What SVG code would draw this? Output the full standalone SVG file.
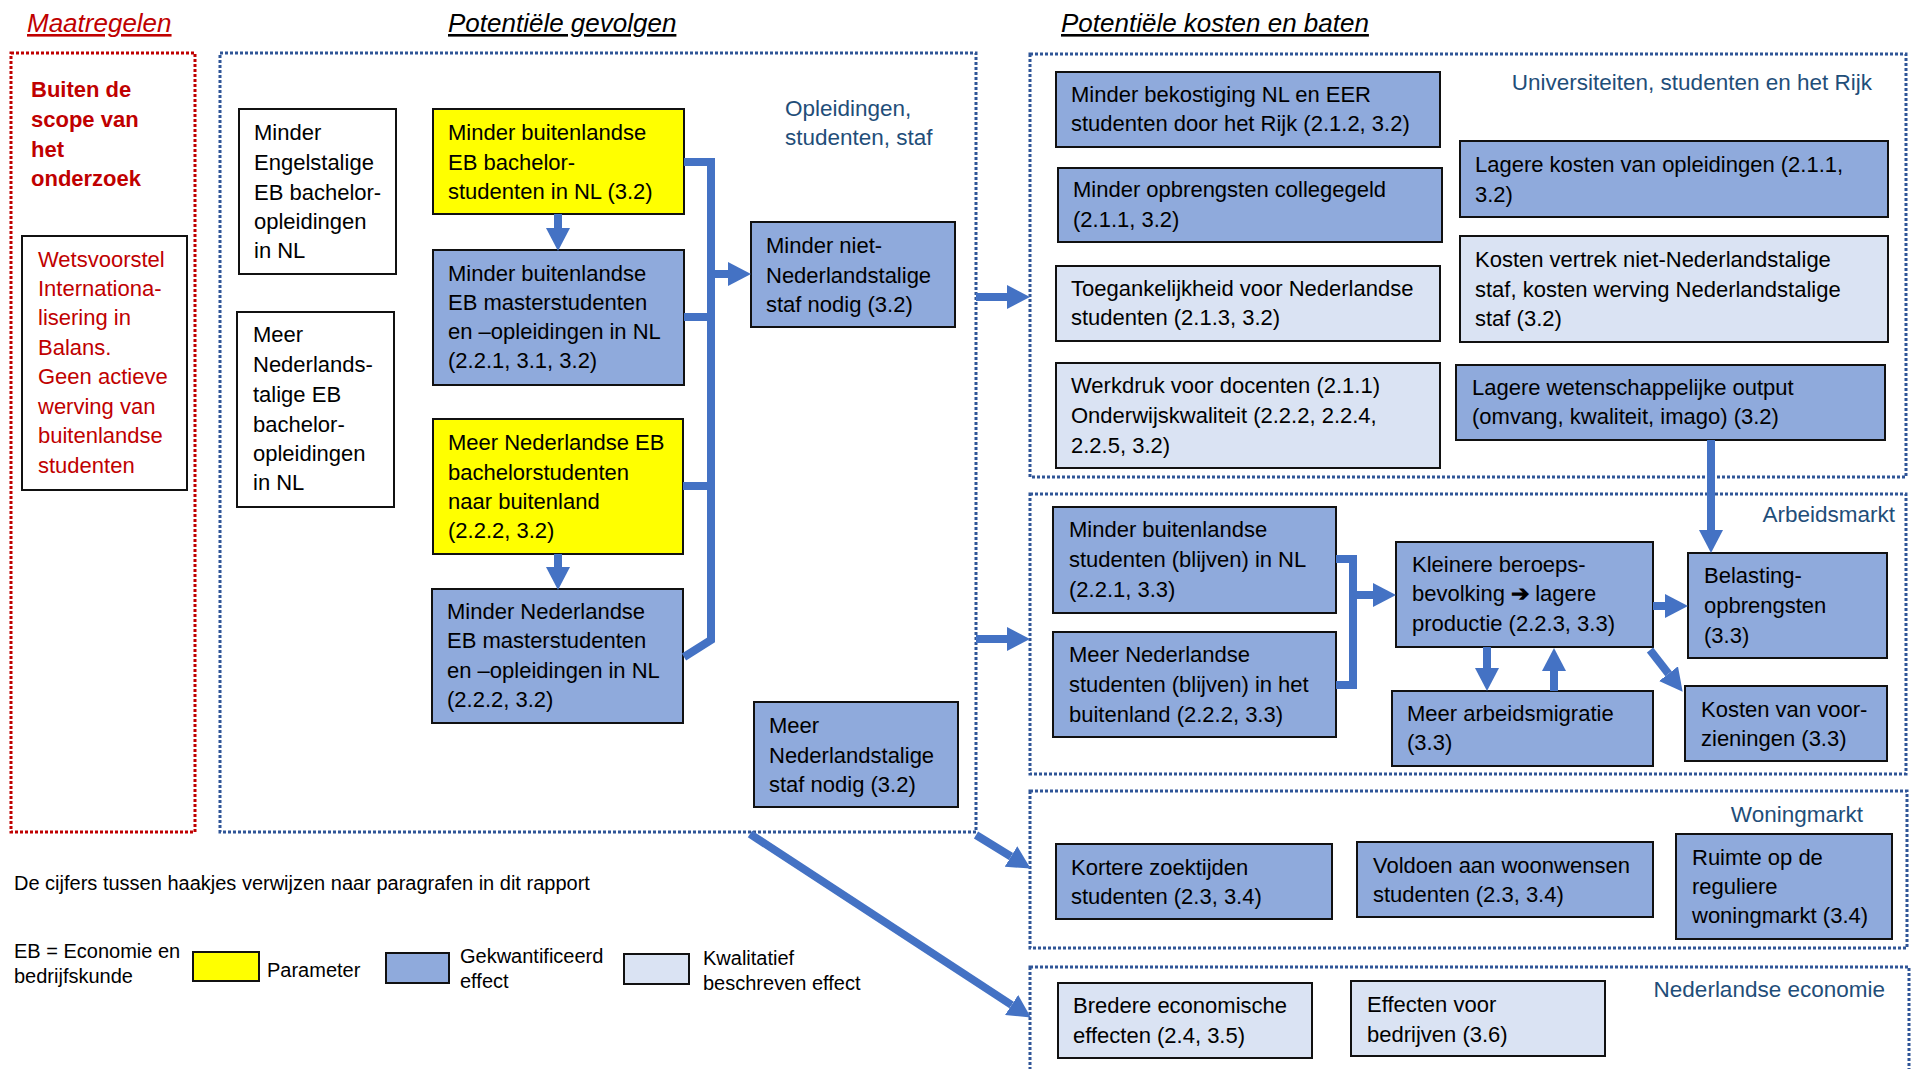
<svg xmlns="http://www.w3.org/2000/svg" width="1915" height="1069" viewBox="0 0 1915 1069">
<style>
text{font-family:"Liberation Sans",Arial,sans-serif;font-size:22px;fill:#000}
.head{font-size:26px;font-style:italic;text-decoration:underline}
.lbl{fill:#1F4E79;font-size:22.5px}
.red{fill:#C00000}
.y{fill:#FFFF00;stroke:#111;stroke-width:2}
.b{fill:#8FAADC;stroke:#111;stroke-width:2}
.l{fill:#DAE3F3;stroke:#111;stroke-width:2}
.w{fill:#fff;stroke:#111;stroke-width:2}
.dot{fill:none;stroke:#2F5597;stroke-width:3;stroke-dasharray:3 2}
.dotr{fill:none;stroke:#C00000;stroke-width:3;stroke-dasharray:3 2}
.c{fill:none;stroke:#4472C4;stroke-width:8}
.ca{fill:none;stroke:#4472C4;stroke-width:8;marker-end:url(#ah)}
.leg{font-size:20px}
</style>
<defs>
<marker id="ah" markerUnits="userSpaceOnUse" viewBox="0 0 23 24" refX="0" refY="12" markerWidth="23" markerHeight="24" orient="auto">
<path d="M0,0 L23,12 L0,24 z" fill="#4472C4"/>
</marker>
</defs>

<!-- headings -->
<text class="head red" x="27" y="32">Maatregelen</text>
<text class="head" x="448" y="32">Potentiële gevolgen</text>
<text class="head" x="1061" y="32">Potentiële kosten en baten</text>

<!-- group frames -->
<g id="frames">
<rect class="dotr" x="11" y="53" width="184" height="779"/>
<rect class="dot" x="220" y="53" width="756" height="779"/>
<rect class="dot" x="1030" y="54" width="876" height="423"/>
<rect class="dot" x="1030" y="494" width="876" height="280"/>
<rect class="dot" x="1030" y="791" width="877" height="157"/>
<rect class="dot" x="1030" y="967" width="879" height="120"/>
<text class="lbl" x="785" y="116">Opleidingen,</text>
<text class="lbl" x="785" y="145">studenten, staf</text>
<text class="lbl" x="1872" y="90" text-anchor="end">Universiteiten, studenten en het Rijk</text>
<text class="lbl" x="1895" y="522" text-anchor="end">Arbeidsmarkt</text>
<text class="lbl" x="1863" y="822" text-anchor="end">Woningmarkt</text>
<text class="lbl" x="1885" y="997" text-anchor="end">Nederlandse economie</text>
</g>

<!-- Maatregelen -->
<g id="buiten-scope">
<text class="red" font-weight="bold" font-size="21" x="31"><tspan x="31" y="97">Buiten de</tspan><tspan x="31" y="127">scope van</tspan><tspan x="31" y="157">het</tspan><tspan x="31" y="186">onderzoek</tspan></text>
</g>
<g id="wetsvoorstel">
<rect class="w" x="22" y="236" width="165" height="254"/>
<text class="red"><tspan x="38" y="267">Wetsvoorstel</tspan><tspan x="38" y="296">Internationa-</tspan><tspan x="38" y="325">lisering in</tspan><tspan x="38" y="355">Balans.</tspan><tspan x="38" y="384">Geen actieve</tspan><tspan x="38" y="414">werving van</tspan><tspan x="38" y="443">buitenlandse</tspan><tspan x="38" y="473">studenten</tspan></text>
</g>

<!-- Potentiele gevolgen -->
<g id="minder-engelstalige">
<rect class="w" x="239" y="109" width="157" height="165"/>
<text><tspan x="254" y="140">Minder</tspan><tspan x="254" y="170">Engelstalige</tspan><tspan x="254" y="200">EB bachelor-</tspan><tspan x="254" y="229">opleidingen</tspan><tspan x="254" y="258">in NL</tspan></text>
</g>
<g id="meer-nederlandstalige-opl">
<rect class="w" x="237" y="312" width="157" height="195"/>
<text><tspan x="253" y="342">Meer</tspan><tspan x="253" y="372">Nederlands-</tspan><tspan x="253" y="402">talige EB</tspan><tspan x="253" y="432">bachelor-</tspan><tspan x="253" y="461">opleidingen</tspan><tspan x="253" y="490">in NL</tspan></text>
</g>
<g id="minder-buitenl-bachelor">
<rect class="y" x="433" y="109" width="251" height="105"/>
<text><tspan x="448" y="140">Minder buitenlandse</tspan><tspan x="448" y="170">EB bachelor-</tspan><tspan x="448" y="199">studenten in NL (3.2)</tspan></text>
</g>
<g id="minder-buitenl-master">
<rect class="b" x="433" y="250" width="251" height="135"/>
<text><tspan x="448" y="281">Minder buitenlandse</tspan><tspan x="448" y="310">EB masterstudenten</tspan><tspan x="448" y="339">en –opleidingen in NL</tspan><tspan x="448" y="368">(2.2.1, 3.1, 3.2)</tspan></text>
</g>
<g id="meer-ned-bachelor">
<rect class="y" x="433" y="419" width="250" height="135"/>
<text><tspan x="448" y="450">Meer Nederlandse EB</tspan><tspan x="448" y="480">bachelorstudenten</tspan><tspan x="448" y="509">naar buitenland</tspan><tspan x="448" y="538">(2.2.2, 3.2)</tspan></text>
</g>
<g id="minder-ned-master">
<rect class="b" x="432" y="589" width="251" height="134"/>
<text><tspan x="447" y="619">Minder Nederlandse</tspan><tspan x="447" y="648">EB masterstudenten</tspan><tspan x="447" y="678">en –opleidingen in NL</tspan><tspan x="447" y="707">(2.2.2, 3.2)</tspan></text>
</g>
<g id="minder-niet-ned-staf">
<rect class="b" x="751" y="222" width="204" height="105"/>
<text><tspan x="766" y="253">Minder niet-</tspan><tspan x="766" y="283">Nederlandstalige</tspan><tspan x="766" y="312">staf nodig (3.2)</tspan></text>
</g>
<g id="meer-ned-staf">
<rect class="b" x="754" y="702" width="204" height="105"/>
<text><tspan x="769" y="733">Meer</tspan><tspan x="769" y="763">Nederlandstalige</tspan><tspan x="769" y="792">staf nodig (3.2)</tspan></text>
</g>

<!-- Universiteiten -->
<g id="minder-bekostiging">
<rect class="b" x="1056" y="72" width="384" height="75"/>
<text><tspan x="1071" y="102">Minder bekostiging NL en EER</tspan><tspan x="1071" y="131">studenten door het Rijk (2.1.2, 3.2)</tspan></text>
</g>
<g id="minder-collegegeld">
<rect class="b" x="1058" y="168" width="384" height="74"/>
<text><tspan x="1073" y="197">Minder opbrengsten collegegeld</tspan><tspan x="1073" y="227">(2.1.1, 3.2)</tspan></text>
</g>
<g id="toegankelijkheid">
<rect class="l" x="1056" y="266" width="384" height="75"/>
<text><tspan x="1071" y="296">Toegankelijkheid voor Nederlandse</tspan><tspan x="1071" y="325">studenten (2.1.3, 3.2)</tspan></text>
</g>
<g id="werkdruk">
<rect class="l" x="1056" y="363" width="384" height="105"/>
<text><tspan x="1071" y="393">Werkdruk voor docenten (2.1.1)</tspan><tspan x="1071" y="423">Onderwijskwaliteit (2.2.2, 2.2.4,</tspan><tspan x="1071" y="453">2.2.5, 3.2)</tspan></text>
</g>
<g id="lagere-kosten">
<rect class="b" x="1460" y="141" width="428" height="76"/>
<text><tspan x="1475" y="172">Lagere kosten van opleidingen (2.1.1,</tspan><tspan x="1475" y="202">3.2)</tspan></text>
</g>
<g id="kosten-vertrek">
<rect class="l" x="1460" y="236" width="428" height="106"/>
<text><tspan x="1475" y="267">Kosten vertrek niet-Nederlandstalige</tspan><tspan x="1475" y="297">staf, kosten werving Nederlandstalige</tspan><tspan x="1475" y="326">staf (3.2)</tspan></text>
</g>
<g id="lagere-output">
<rect class="b" x="1456" y="365" width="429" height="75"/>
<text><tspan x="1472" y="395">Lagere wetenschappelijke output</tspan><tspan x="1472" y="424">(omvang, kwaliteit, imago) (3.2)</tspan></text>
</g>

<!-- Arbeidsmarkt -->
<g id="minder-buitenl-blijven">
<rect class="b" x="1053" y="507" width="283" height="106"/>
<text><tspan x="1069" y="537">Minder buitenlandse</tspan><tspan x="1069" y="567">studenten (blijven) in NL</tspan><tspan x="1069" y="597">(2.2.1, 3.3)</tspan></text>
</g>
<g id="meer-ned-buitenland">
<rect class="b" x="1053" y="632" width="283" height="105"/>
<text><tspan x="1069" y="662">Meer Nederlandse</tspan><tspan x="1069" y="692">studenten (blijven) in het</tspan><tspan x="1069" y="722">buitenland (2.2.2, 3.3)</tspan></text>
</g>
<g id="kleinere-beroepsbevolking">
<rect class="b" x="1396" y="542" width="257" height="105"/>
<text><tspan x="1412" y="572">Kleinere beroeps-</tspan><tspan x="1412" y="601">bevolking <tspan font-weight="bold">➔</tspan> lagere</tspan><tspan x="1412" y="631">productie (2.2.3, 3.3)</tspan></text>
</g>
<g id="belasting">
<rect class="b" x="1688" y="553" width="199" height="105"/>
<text><tspan x="1704" y="583">Belasting-</tspan><tspan x="1704" y="613">opbrengsten</tspan><tspan x="1704" y="643">(3.3)</tspan></text>
</g>
<g id="arbeidsmigratie">
<rect class="b" x="1392" y="691" width="261" height="75"/>
<text><tspan x="1407" y="721">Meer arbeidsmigratie</tspan><tspan x="1407" y="750">(3.3)</tspan></text>
</g>
<g id="kosten-voorzieningen">
<rect class="b" x="1685" y="686" width="202" height="75"/>
<text><tspan x="1701" y="717">Kosten van voor-</tspan><tspan x="1701" y="746">zieningen (3.3)</tspan></text>
</g>

<!-- Woningmarkt -->
<g id="kortere-zoektijden">
<rect class="b" x="1056" y="844" width="276" height="75"/>
<text><tspan x="1071" y="875">Kortere zoektijden</tspan><tspan x="1071" y="904">studenten (2.3, 3.4)</tspan></text>
</g>
<g id="woonwensen">
<rect class="b" x="1357" y="842" width="296" height="75"/>
<text><tspan x="1373" y="873">Voldoen aan woonwensen</tspan><tspan x="1373" y="902">studenten (2.3, 3.4)</tspan></text>
</g>
<g id="ruimte-woningmarkt">
<rect class="b" x="1676" y="834" width="216" height="105"/>
<text><tspan x="1692" y="865">Ruimte op de</tspan><tspan x="1692" y="894">reguliere</tspan><tspan x="1692" y="923">woningmarkt (3.4)</tspan></text>
</g>

<!-- Nederlandse economie -->
<g id="bredere-effecten">
<rect class="l" x="1058" y="983" width="254" height="75"/>
<text><tspan x="1073" y="1013">Bredere economische</tspan><tspan x="1073" y="1043">effecten (2.4, 3.5)</tspan></text>
</g>
<g id="effecten-bedrijven">
<rect class="l" x="1351" y="981" width="254" height="75"/>
<text><tspan x="1367" y="1012">Effecten voor</tspan><tspan x="1367" y="1042">bedrijven (3.6)</tspan></text>
</g>

<!-- connectors -->
<g id="connectors">
<path class="ca" d="M558,214 V228"/>
<path class="ca" d="M558,554 V567"/>
<path class="c" d="M684,162 H711 V640 L684,657" stroke-linejoin="miter"/>
<path class="c" d="M684,317 H711"/>
<path class="c" d="M683,486 H711"/>
<path class="ca" d="M711,274 H728"/>
<path class="ca" d="M976,297 H1007"/>
<path class="ca" d="M976,639 H1007"/>
<path class="ca" d="M976,835 L1011,856.5"/>
<path class="ca" d="M750,834 L1011.6,1005"/>
<path class="ca" d="M1711,440 V530"/>
<path class="c" d="M1336,559 H1353 V685 H1336"/>
<path class="ca" d="M1353,595 H1373"/>
<path class="ca" d="M1653,606 H1665"/>
<path class="ca" d="M1487,647 V668"/>
<path class="ca" d="M1554,691 V671"/>
<path class="ca" d="M1650,650 L1668.5,673.7"/>
</g>

<!-- legend -->
<g id="legend">
<text class="leg" x="14" y="890">De cijfers tussen haakjes verwijzen naar paragrafen in dit rapport</text>
<text class="leg"><tspan x="14" y="958">EB = Economie en</tspan><tspan x="14" y="983">bedrijfskunde</tspan></text>
<rect class="y" x="193" y="952" width="66" height="29"/>
<text class="leg" x="267" y="977">Parameter</text>
<rect class="b" x="386" y="953" width="63" height="30"/>
<text class="leg"><tspan x="460" y="963">Gekwantificeerd</tspan><tspan x="460" y="988">effect</tspan></text>
<rect class="l" x="624" y="954" width="65" height="30"/>
<text class="leg"><tspan x="703" y="965">Kwalitatief</tspan><tspan x="703" y="990">beschreven effect</tspan></text>
</g>
</svg>
